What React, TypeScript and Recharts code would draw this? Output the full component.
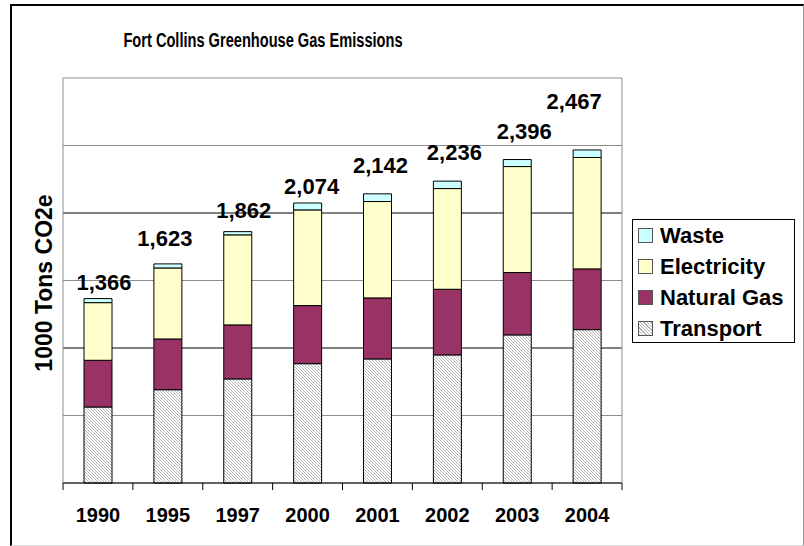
import React from 'react';
import { BarChart, Bar, XAxis, YAxis, CartesianGrid, Legend, LabelList } from 'recharts';

const YEARS = ['1990', '1995', '1997', '2000', '2001', '2002', '2003', '2004'];
const TRANSPORT = [563, 691, 771, 884, 919, 949, 1097, 1136];
const NATURAL_GAS = [346, 376, 400, 430, 452, 486, 462, 450];
const ELECTRICITY = [427, 526, 667, 709, 714, 746, 785, 825];
const WASTE = [30, 30, 24, 51, 57, 55, 52, 56];
const Y_TICKS = [0, 500, 1000, 1500, 2000, 2500, 3000];

// the total labels were dragged by hand, so each one keeps its own nudge (px) from the bar top
const LABEL_NUDGE = [
  [6, -16],
  [-3, -25],
  [6, -21],
  [4, -17],
  [3, -28],
  [7, -29],
  [7, -28],
  [-13, -48],
];

// legend lists the stack top-down
const LEGEND_ORDER = ['waste', 'electricity', 'naturalGas', 'transport'];

const FONT = 'Arial, "Liberation Sans", sans-serif';

const data = YEARS.map((year, i) => ({
  year,
  transport: TRANSPORT[i],
  naturalGas: NATURAL_GAS[i],
  electricity: ELECTRICITY[i],
  waste: WASTE[i],
  total: TRANSPORT[i] + NATURAL_GAS[i] + ELECTRICITY[i] + WASTE[i],
}));

const HATCH_CSS = 'repeating-linear-gradient(45deg, #b4b4b4 0 1px, #fff 1px 2.4px)';

const SWATCH: Record<string, string> = {
  waste: '#ccffff',
  electricity: '#ffffcc',
  naturalGas: '#993366',
  transport: HATCH_CSS,
};

const TotalLabel = (props: any) => {
  const { x, y, width, value, index } = props;
  const [dx, dy] = LABEL_NUDGE[index] ?? [0, -12];
  return (
    <text
      x={Number(x) + Number(width) / 2 + dx}
      y={Number(y) + dy}
      textAnchor="middle"
      dominantBaseline="central"
      fontFamily={FONT}
      fontSize={22}
      fontWeight="bold"
      fill="#000"
    >
      {Number(value).toLocaleString('en-US')}
    </text>
  );
};

// Excel-style category axis: tick marks sit on the band edges, label in the middle
const YearTick = (props: any) => {
  const { x, y, payload, index } = props;
  const half = payload.offset ?? 559 / 16;
  const last = index === YEARS.length - 1;
  return (
    <g>
      <line x1={x - half} x2={x - half} y1={y} y2={y + 7} stroke="#000" />
      {last && <line x1={x + half} x2={x + half} y1={y} y2={y + 7} stroke="#000" />}
      <text
        x={x}
        y={y + 32}
        textAnchor="middle"
        dominantBaseline="central"
        fontFamily={FONT}
        fontSize={20}
        fontWeight="bold"
        fill="#000"
      >
        {payload.value}
      </text>
    </g>
  );
};

const NoTick = () => <g />;

const gridLine = (props: any) => {
  const { x1, x2, y1, y2, index } = props;
  const dark = index === 2 || index === 4;
  return (
    <line
      key={`grid-${index}`}
      x1={x1}
      x2={x2}
      y1={y1}
      y2={y2}
      stroke={dark ? '#000' : '#8c8c8c'}
      strokeWidth={1}
    />
  );
};

const LegendBox = ({ payload }: any) => {
  const items = [...(payload ?? [])].sort(
    (a: any, b: any) => LEGEND_ORDER.indexOf(a.dataKey) - LEGEND_ORDER.indexOf(b.dataKey)
  );
  return (
    <div
      style={{
        width: 161,
        height: 122,
        border: '1px solid #000',
        background: '#fff',
        fontFamily: FONT,
        fontSize: 22,
        fontWeight: 'bold',
        color: '#000',
      }}
    >
      {items.map((item: any) => (
        <div
          key={item.dataKey}
          style={{ height: 31, display: 'flex', alignItems: 'center', paddingLeft: 5 }}
        >
          <span
            style={{
              width: 13,
              height: 13,
              border: '1px solid #555',
              background: SWATCH[item.dataKey],
              marginRight: 7,
              flexShrink: 0,
            }}
          />
          <span style={{ whiteSpace: 'nowrap', lineHeight: '22px' }}>{item.value}</span>
        </div>
      ))}
    </div>
  );
};

export default function App() {
  return (
    <div style={{ position: 'absolute', left: 0, top: 0, width: 804, height: 546, background: '#fff' }}>
      <div
        style={{
          position: 'absolute',
          left: 10,
          top: 4,
          width: 791,
          height: 539,
          borderTop: '2px solid #000',
          borderLeft: '2px solid #000',
          borderRight: '1px solid #999',
          borderBottom: '1px solid #ddd',
        }}
      />
      <div
        style={{
          position: 'absolute',
          left: 63,
          top: 27,
          width: 400,
          textAlign: 'center',
          fontFamily: FONT,
          fontSize: 20,
          fontWeight: 'bold',
          lineHeight: '26px',
          transform: 'scaleX(0.73)',
        }}
      >
        Fort Collins Greenhouse Gas Emissions
      </div>
      <div
        style={{
          position: 'absolute',
          left: 44 - 110,
          top: 283 - 14,
          width: 220,
          textAlign: 'center',
          fontFamily: FONT,
          fontSize: 23,
          fontWeight: 'bold',
          lineHeight: '28px',
          transform: 'rotate(-90deg)',
        }}
      >
        1000 Tons CO2e
      </div>
      <BarChart
        width={804}
        height={546}
        data={data}
        margin={{ top: 78, right: 181, bottom: 23, left: 62 }}
        barSize={28}
        style={{ position: 'absolute', left: 0, top: 0 }}
      >
        <defs>
          <pattern id="hatch" patternUnits="userSpaceOnUse" width="3" height="3">
            <rect width="3" height="3" fill="#fff" />
            <path d="M0,0 L3,3 M-1,2 L1,4 M2,-1 L4,1" stroke="#b4b4b4" strokeWidth="1" />
          </pattern>
        </defs>
        <CartesianGrid vertical={false} horizontal={gridLine} />
        <XAxis
          dataKey="year"
          height={40}
          tickSize={0}
          tickMargin={0}
          tickLine={false}
          axisLine={{ stroke: '#000' }}
          tick={YearTick}
          interval={0}
        />
        <YAxis
          width={1}
          domain={[0, 3000]}
          ticks={Y_TICKS}
          interval={0}
          tick={NoTick}
          tickLine={false}
          axisLine={{ stroke: '#8c8c8c' }}
        />
        <YAxis
          yAxisId="right"
          orientation="right"
          width={1}
          domain={[0, 3000]}
          ticks={Y_TICKS}
          interval={0}
          tick={NoTick}
          tickLine={false}
          axisLine={{ stroke: '#8c8c8c' }}
        />
        <Bar dataKey="transport" name="Transport" stackId="a" fill="url(#hatch)" stroke="#000" strokeWidth={1} isAnimationActive={false} />
        <Bar dataKey="naturalGas" name="Natural Gas" stackId="a" fill="#993366" stroke="#000" strokeWidth={1} isAnimationActive={false} />
        <Bar dataKey="electricity" name="Electricity" stackId="a" fill="#ffffcc" stroke="#000" strokeWidth={1} isAnimationActive={false} />
        <Bar dataKey="waste" name="Waste" stackId="a" fill="#ccffff" stroke="#000" strokeWidth={1} isAnimationActive={false}>
          <LabelList dataKey="total" content={TotalLabel} />
        </Bar>
        <Legend
          layout="vertical"
          align="center"
          verticalAlign="middle"
          content={LegendBox}
          wrapperStyle={{ left: 632, top: 219, width: 163, height: 124 }}
        />
      </BarChart>
    </div>
  );
}
